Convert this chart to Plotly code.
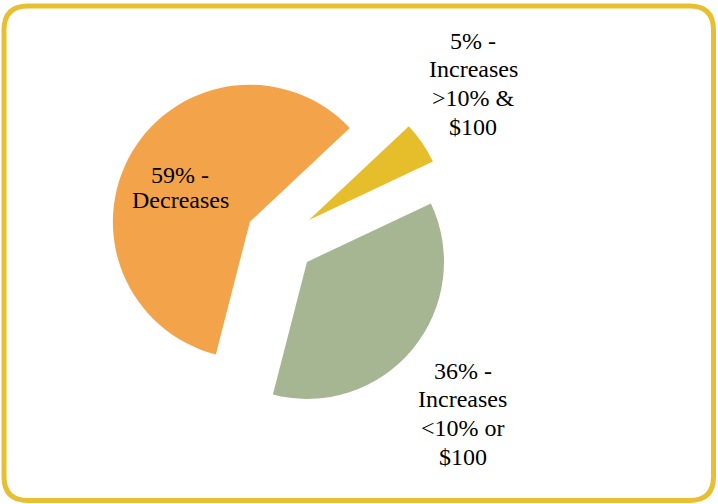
import plotly.graph_objects as go

# Share of outcomes, in the order the slices are drawn (clockwise)
categories = ["Increases >10% & $100", "Increases <10% or $100", "Decreases"]
shares = [5, 36, 59]
colors = ["#E6BE2C", "#A6B592", "#F3A44A"]
# Category names broken into the lines used for each slice label
name_lines = [
    ["Increases", ">10% &", "$100"],
    ["Increases", "<10% or", "$100"],
    ["Decreases"],
]

W, H = 718, 504
SERIF = "'Liberation Serif', 'Times New Roman', Times, 'DejaVu Serif', serif"

# Label block placement in pixels: centre x, first line centre y, line step
label_pos = [(473, 40.5, 28.7), (462.5, 370.5, 28.8), (180.5, 174.5, 26.0)]

fig = go.Figure(
    go.Pie(
        labels=categories,
        values=shares,
        sort=False,
        direction="clockwise",
        rotation=46.8,
        pull=[0.2555, 0.2555, 0.2555],
        marker=dict(colors=colors, line=dict(width=0)),
        textinfo="none",
        hoverinfo="label+percent",
        showlegend=False,
        domain=dict(x=[108 / W, 452 / W], y=[(H - 239.6 - 172) / H, (H - 239.6 + 172) / H]),
    )
)

annotations = []
for share, lines, (cx, y0, step) in zip(shares, name_lines, label_pos):
    for i, line in enumerate([f"{share}% -"] + lines):
        annotations.append(
            dict(
                x=cx / W,
                y=1 - (y0 + i * step) / H,
                xref="paper",
                yref="paper",
                text=line,
                showarrow=False,
                xanchor="center",
                yanchor="middle",
                font=dict(family=SERIF, size=24, color="#000000"),
            )
        )

# Rounded gold frame around the chart
x0, x1 = 4 / W, 713.5 / W
y0, y1 = 1 - 500.5 / H, 1 - 6 / H
rx, ry = 24 / W, 24 / H
frame = (
    f"M {x0 + rx} {y1} L {x1 - rx} {y1} Q {x1} {y1} {x1} {y1 - ry} "
    f"L {x1} {y0 + ry} Q {x1} {y0} {x1 - rx} {y0} "
    f"L {x0 + rx} {y0} Q {x0} {y0} {x0} {y0 + ry} "
    f"L {x0} {y1 - ry} Q {x0} {y1} {x0 + rx} {y1} Z"
)

fig.update_layout(
    width=W,
    height=H,
    margin=dict(l=0, r=0, t=0, b=0),
    paper_bgcolor="#FFFFFF",
    plot_bgcolor="#FFFFFF",
    font=dict(family=SERIF),
    annotations=annotations,
    shapes=[
        dict(
            type="path",
            xref="paper",
            yref="paper",
            path=frame,
            line=dict(color="#E8BF30", width=5),
            fillcolor="rgba(0,0,0,0)",
        )
    ],
)

fig.write_html("out.html")
